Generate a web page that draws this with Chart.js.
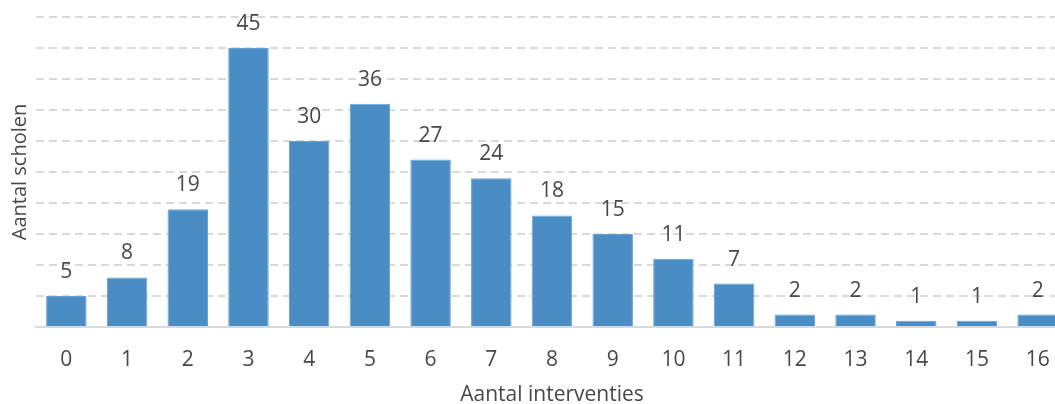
<!DOCTYPE html>
<html>
<head>
<meta charset="utf-8">
<script src="https://cdn.jsdelivr.net/npm/chart.js@4.4.1/dist/chart.umd.min.js"></script>
<style>
  html, body { margin: 0; padding: 0; background: #fff; overflow: hidden; }
  #wrap { width: 1070px; height: 404px; }
</style>
</head>
<body>
<div id="wrap"><canvas id="chart"></canvas></div>
<script>
// categories: aantal interventies
var categories = ['0', '1', '2', '3', '4', '5', '6', '7', '8', '9', '10', '11', '12', '13', '14', '15', '16'];
// values: aantal scholen
var schools = [5, 8, 19, 45, 30, 36, 27, 24, 18, 15, 11, 7, 2, 2, 1, 1, 2];

var fontFamily = '"Open Sans", "Noto Sans", sans-serif';
var textColor = '#484848';

// draws the value above each bar
var valueLabels = {
    id: 'valueLabels',
    afterDatasetsDraw: function (chart) {
        var ctx = chart.ctx;
        var meta = chart.getDatasetMeta(0);
        ctx.save();
        ctx.font = '21px ' + fontFamily;
        ctx.fillStyle = textColor;
        ctx.textAlign = 'center';
        ctx.textBaseline = 'alphabetic';
        meta.data.forEach(function (bar, i) {
            ctx.fillText(String(chart.data.datasets[0].data[i]), bar.x, bar.y - 18);
        });
        ctx.restore();
    }
};

var ctx = document.getElementById('chart');
var chart = new Chart(ctx, {
    type: 'bar',
    data: {
        labels: categories,
        datasets: [{
            label: 'Aantal scholen',
            data: schools,
            backgroundColor: '#4a8cc4',
            borderColor: '#6aa2d2',
            borderWidth: 1,
            categoryPercentage: 1.0,
            barPercentage: 0.667
        }]
    },
    options: {
        responsive: true,
        maintainAspectRatio: false,
        animation: false,
        layout: { padding: { top: 17, right: 2, left: 0, bottom: 0 } },
        plugins: {
            legend: { display: false },
            tooltip: { enabled: false }
        },
        scales: {
            x: {
                grid: { display: false, drawTicks: false },
                border: { color: '#d9d9d9', width: 2 },
                ticks: {
                    color: textColor,
                    font: { family: fontFamily, size: 21 },
                    padding: 20,
                    maxRotation: 0
                },
                title: {
                    display: true,
                    text: 'Aantal interventies',
                    color: textColor,
                    font: { family: fontFamily, size: 21, lineHeight: 0.85 },
                    padding: 0
                },
                afterFit: function (scale) { scale.height = 77; }
            },
            y: {
                min: 0,
                max: 50,
                ticks: { stepSize: 5, display: false },
                grid: {
                    color: function (c) { return c.tick.value === 0 ? 'rgba(0,0,0,0)' : '#d9d9d9'; },
                    lineWidth: 2,
                    drawTicks: false
                },
                border: { display: false, dash: [8, 5] },
                title: {
                    display: true,
                    text: 'Aantal scholen',
                    color: textColor,
                    font: { family: fontFamily, size: 20 },
                    padding: { top: 8, bottom: 0 }
                },
                afterFit: function (scale) { scale.width = 36; }
            }
        }
    },
    plugins: [valueLabels]
});
</script>
</body>
</html>
